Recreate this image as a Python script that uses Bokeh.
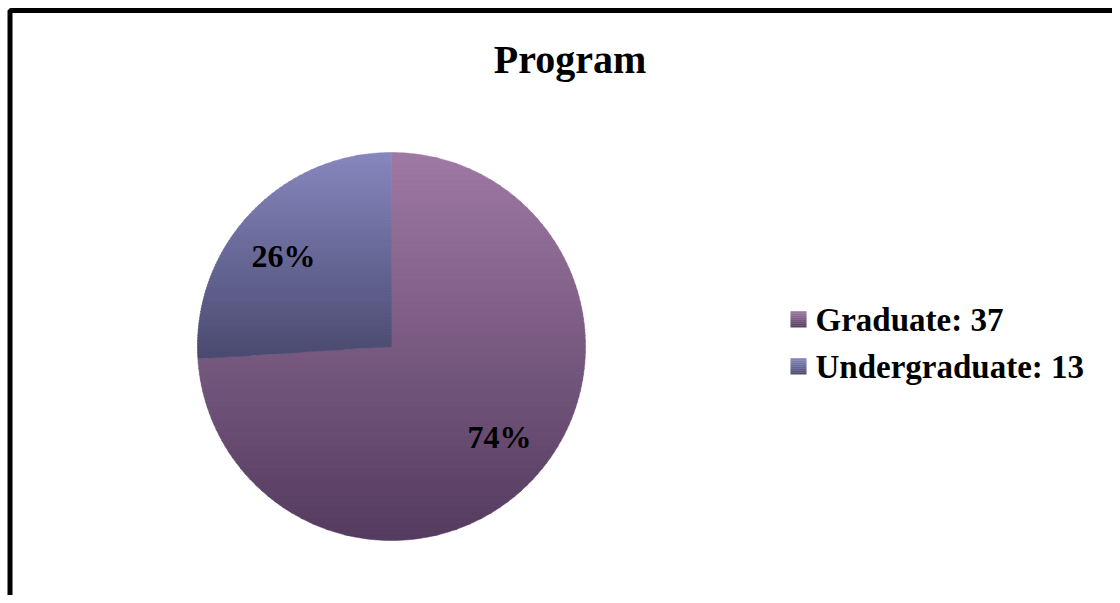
import numpy as np
from bokeh.plotting import figure
from bokeh.models import Range1d, BoxAnnotation, ColumnDataSource
from bokeh.core.properties import value
from bokeh.embed import file_html
from bokeh.resources import INLINE

# ---- data ----
title_text = "Program"
categories = ["Graduate", "Undergraduate"]
counts = [37, 13]
top_colors = ["#9e79a4", "#8787be"]
bottom_colors = ["#543b5e", "#4a4a70"]

# ---- layout constants (figure pixel space, y up) ----
W, H = 1112, 595
CX, CY, R = 391.0, 249.0, 194.0
FONT = "Liberation Serif"

p = figure(width=W, height=H, output_backend="svg", toolbar_location=None,
           x_range=Range1d(0, W), y_range=Range1d(0, H),
           x_axis_type=None, y_axis_type=None, min_border=0)
p.grid.visible = False
p.outline_line_color = None
p.background_fill_color = "white"
p.border_fill_color = "white"


def hex2rgb(h):
    h = h.lstrip("#")
    return np.array([int(h[i:i + 2], 16) for i in (0, 2, 4)], dtype=float)


def mix(c1, c2, t):
    c = hex2rgb(c1) * (1 - t) + hex2rgb(c2) * t
    return "#%02x%02x%02x" % tuple(int(round(v)) for v in c)


def clip(poly, y0, keep_above):
    out = []
    n = len(poly)
    for i in range(n):
        a = poly[i]
        b = poly[(i + 1) % n]
        ina = a[1] >= y0 if keep_above else a[1] <= y0
        inb = b[1] >= y0 if keep_above else b[1] <= y0
        if ina:
            out.append(a)
        if ina != inb:
            t = (y0 - a[1]) / (b[1] - a[1])
            out.append((a[0] + t * (b[0] - a[0]), y0))
    return out


def gradient_fill(poly, ctop, cbot, nbands=70):
    ys = [q[1] for q in poly]
    ymin, ymax = min(ys), max(ys)
    xs_list, ys_list, cols = [], [], []
    step = (ymax - ymin) / nbands
    for i in range(nbands):
        yb = ymin + i * step
        yt = yb + step
        sub = clip(poly, yb - 0.4, True)
        sub = clip(sub, yt + 0.4, False) if sub else []
        if len(sub) < 3:
            continue
        t = 1 - (i + 0.5) / nbands
        xs_list.append([q[0] for q in sub])
        ys_list.append([q[1] for q in sub])
        cols.append(mix(ctop, cbot, t))
    src = ColumnDataSource(dict(xs=xs_list, ys=ys_list, c=cols))
    p.patches("xs", "ys", source=src, fill_color="c", line_color="c", line_width=0.5)


# ---- pie slices ----
total = sum(counts)
start = np.pi / 2
mids = []
for cat, cnt, ct, cb in zip(categories, counts, top_colors, bottom_colors):
    sweep = 2 * np.pi * cnt / total
    end = start - sweep  # clockwise
    angs = np.linspace(start, end, 240)
    poly = [(CX, CY)] + [(CX + R * np.cos(a), CY + R * np.sin(a)) for a in angs]
    gradient_fill(poly, ct, cb)
    mids.append((start + end) / 2)
    start = end

# ---- percent labels ----
LAB_R = 0.725 * R
LAB_ROT = np.deg2rad(3.4)
lab_x = [CX + LAB_R * np.cos(m + LAB_ROT) for m in mids]
lab_y = [CY + LAB_R * np.sin(m + LAB_ROT) for m in mids]
lab_t = ["%d%%" % round(100 * c / total) for c in counts]
p.text(x=lab_x, y=lab_y, text=lab_t, text_font=value(FONT), text_font_style="bold",
       text_font_size="32px", text_align="center", text_baseline="middle", text_color="black")

# ---- title ----
p.text(x=[569.5], y=[536], text=[title_text], text_font=value(FONT), text_font_style="bold",
       text_font_size="40px", text_align="center", text_baseline="middle", text_color="black")

# ---- legend ----
LX, LY0, LDY, SW = 790, 276, 47, 16
for i, (cat, cnt, ct, cb) in enumerate(zip(categories, counts, top_colors, bottom_colors)):
    yc = LY0 - i * LDY
    nb = 8
    qs = dict(l=[], r=[], b=[], t=[], c=[])
    for k in range(nb):
        b = yc - SW / 2 + k * SW / nb
        qs["l"].append(LX)
        qs["r"].append(LX + SW)
        qs["b"].append(b)
        qs["t"].append(b + SW / nb + 0.3)
        qs["c"].append(mix(ct, cb, 1 - (k + 0.5) / nb))
    p.quad(left="l", right="r", bottom="b", top="t", fill_color="c", line_color=None,
           source=ColumnDataSource(qs))
    p.text(x=[815], y=[yc], text=["%s: %d" % (cat, cnt)], text_font=value(FONT),
           text_font_style="bold", text_font_size="33px", text_align="left",
           text_baseline="middle", text_color="black")

# ---- frame border (left and top edges visible) ----
p.add_layout(BoxAnnotation(left=9.5, right=5000, bottom=-5000, top=585,
                           fill_alpha=0, line_color="black", line_alpha=1, line_width=5))

open("out.html", "w").write(file_html(p, INLINE))
